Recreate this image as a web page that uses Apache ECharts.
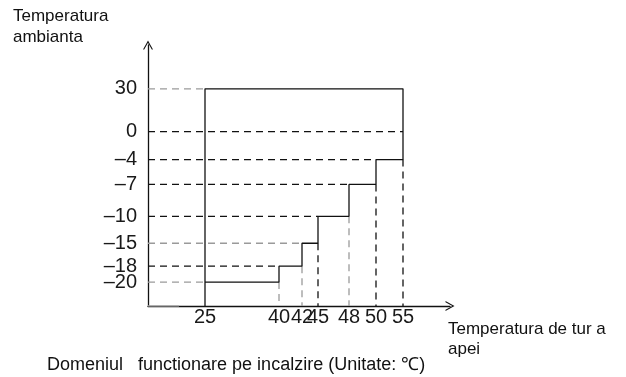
<!DOCTYPE html>
<html>
<head>
<meta charset="utf-8">
<script src="https://cdn.jsdelivr.net/npm/echarts@6/dist/echarts.min.js"></script>
<style>
  html, body { margin: 0; padding: 0; background: #fff; }
  #plot { width: 626px; height: 377px; }
</style>
</head>
<body>
<div id="plot"></div>
<script>
// 数据：水温（横轴）与环境温度（纵轴）
var waterTicks = [25, 40, 42, 45, 48, 50, 55];
var ambientTicks = [30, 0, -4, -7, -10, -15, -18, -20];
// 每段环境温度对应的最高出水温度
var ambientBreaks = [-20, -18, -15, -10, -7, -4, 30];
var maxWater = [40, 42, 45, 48, 50, 55];
var minWater = 25;

// 示意图的刻度位置（非线性，按原图排布）
var waterPos = [57, 131, 154, 170, 201, 228, 255];
var ambientPos = [218, 175, 147, 122, 90, 63, 40, 24];

function px(t) { return waterPos[waterTicks.indexOf(t)]; }
function py(t) { return ambientPos[ambientTicks.indexOf(t)]; }

// 外轮廓（阶梯形）
var outline = [[px(minWater), py(ambientBreaks[0])]];
for (var i = 0; i < maxWater.length; i++) {
  outline.push([px(maxWater[i]), py(ambientBreaks[i])]);
  outline.push([px(maxWater[i]), py(ambientBreaks[i + 1])]);
}
outline.push([px(minWater), py(30)]);
outline.push([px(minWater), py(ambientBreaks[0])]);
outline.push([px(minWater), 0]);

// 虚线
var blackDash = [];
var grayDash = [];
function seg(arr, a, b) { arr.push(a, b, '-'); }
seg(blackDash, [0, py(0)], [px(55), py(0)]);
seg(blackDash, [0, py(-4)], [px(50), py(-4)]);
seg(blackDash, [0, py(-7)], [px(48), py(-7)]);
seg(blackDash, [0, py(-10)], [px(45), py(-10)]);
seg(blackDash, [0, py(-18)], [px(40), py(-18)]);
seg(blackDash, [px(55), py(-4)], [px(55), 0]);
seg(blackDash, [px(50), py(-7)], [px(50), 0]);
seg(blackDash, [px(45), py(-15)], [px(45), 0]);
seg(grayDash, [0, py(30)], [px(25), py(30)]);
seg(grayDash, [0, py(-15)], [px(42), py(-15)]);
seg(grayDash, [0, py(-20)], [px(25), py(-20)]);
seg(grayDash, [px(48), py(-10)], [px(48), 0]);
seg(grayDash, [px(42), py(-18)], [px(42), 0]);
seg(grayDash, [px(40), py(-20)], [px(40), 0]);

var myChart = echarts.init(document.getElementById('plot'));

var arrow = 'path://M5,0 L10,9 L8.8,9 L5,2.2 L1.2,9 L0,9 Z';
var numFont = "'Liberation Sans', Arial, sans-serif";
var txtFont = "'Liberation Sans', Arial, sans-serif";

function fmtNum(v) { return v == null ? '' : (v < 0 ? '\u2013' + Math.abs(v) : '' + v); }

var option = {
  animation: false,
  grid: { left: 148, top: 45, right: 176, bottom: 71 },
  xAxis: {
    type: 'value', min: 0, max: 302,
    splitLine: { show: false },
    axisLine: {
      lineStyle: { color: '#111', width: 1.3 },
      symbol: ['none', arrow], symbolSize: [11, 9]
    },
    axisTick: { show: false },
    axisLabel: {
      // 加上原点处的空标签，避免首个刻度标签被自动隐藏
      customValues: [0].concat(waterPos, [302]),
      formatter: function (v) { return fmtNum(waterTicks[waterPos.indexOf(v)]); },
      color: '#1a1a1a', fontSize: 20, fontFamily: numFont, margin: 4,
      hideOverlap: false, lineHeight: 14
    }
  },
  yAxis: {
    type: 'value', min: 0, max: 262,
    splitLine: { show: false },
    axisLine: {
      show: true,
      lineStyle: { color: '#111', width: 1.3 },
      symbol: ['none', arrow], symbolSize: [11, 9]
    },
    axisTick: { show: false },
    axisLabel: {
      customValues: [0].concat(ambientPos, [262]),
      formatter: function (v) { return fmtNum(ambientTicks[ambientPos.indexOf(v)]); },
      color: '#1a1a1a', fontSize: 20, fontFamily: numFont, margin: 11,
      hideOverlap: false, lineHeight: 14
    }
  },
  series: [
    {
      type: 'line', data: grayDash, symbol: 'none', connectNulls: false,
      lineStyle: { color: '#9a9a9a', width: 1.3, type: [7, 5] }
    },
    {
      type: 'line', data: blackDash, symbol: 'none', connectNulls: false,
      lineStyle: { color: '#111', width: 1.3, type: [7, 5] }
    },
    {
      // 原点附近坐标轴的浅灰段
      type: 'line', data: [[0, 0], [31, 0]], symbol: 'none',
      lineStyle: { color: '#a8a8a8', width: 1.6 }
    },
    {
      type: 'line', data: outline, symbol: 'none',
      lineStyle: { color: '#111', width: 1.3 }
    }
  ],
  graphic: [
    {
      type: 'text', left: 13, top: 6,
      style: { text: 'Temperatura\nambianta', font: '17px ' + txtFont, lineHeight: 21, fill: '#111' }
    },
    {
      type: 'text', left: 448, top: 319,
      style: { text: 'Temperatura de tur a\napei', font: '17px ' + txtFont, lineHeight: 20, fill: '#111' }
    },
    {
      type: 'text', left: 47, top: 356,
      style: { text: 'Domeniul   functionare pe incalzire (Unitate: \u2103)', font: '18px ' + txtFont, fill: '#111' }
    }
  ]
};

myChart.setOption(option);
</script>
</body>
</html>
